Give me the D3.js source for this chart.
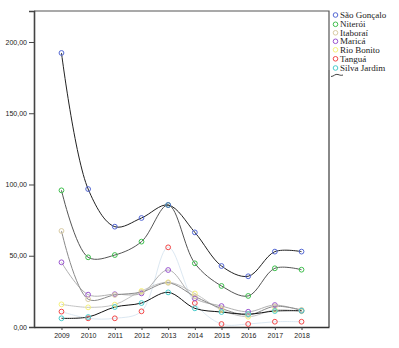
<!DOCTYPE html>
<html>
<head>
<meta charset="utf-8">
<script src="https://cdn.jsdelivr.net/npm/d3@7"></script>
<style>
  html, body { margin: 0; padding: 0; background: #fff; }
  svg { display: block; }
</style>
</head>
<body>
<svg id="chart" width="399" height="348"></svg>
<script>
// Years on the horizontal axis
const years = ["2009", "2010", "2011", "2012", "2013", "2014", "2015", "2016", "2017", "2018"];

// Values per municipality
const saoGoncalo  = [192.3, 96.8, 70.4, 76.5, 85.6, 66.4, 42.8, 35.6, 52.9, 52.9];
const niteroi     = [95.9, 48.9, 50.5, 59.9, 85.6, 44.7, 28.8, 21.8, 41.2, 40.2];
const itaborai    = [67.4, 19.5, 22.5, 24.5, 31.0, 21.5, 13.0, 8.5, 14.5, 12.0];
const marica      = [45.4, 22.7, 23.0, 23.6, 40.0, 20.1, 14.7, 10.7, 15.4, 11.4];
const rioBonito   = [15.9, 13.8, 15.7, 25.3, 31.4, 23.5, 12.0, 7.2, 12.0, 11.0];
const tangua      = [10.8, 6.1, 6.1, 11.0, 55.9, 16.8, 2.1, 2.1, 3.7, 3.7];
const silvaJardim = [6.1, 7.0, 14.0, 16.8, 24.3, 13.1, 10.5, 9.0, 11.2, 11.4];

// Y axis tick values and labels
const yTicks = [0, 50, 100, 150, 200];
const yTickLabels = ["0,00", "50,00", "100,00", "150,00", "200,00"];

const seriesNames = ["São Gonçalo", "Niterói", "Itaboraí", "Maricá", "Rio Bonito", "Tanguá", "Silva Jardim"];
const seriesValues = [saoGoncalo, niteroi, itaborai, marica, rioBonito, tangua, silvaJardim];
const markerColors = ["#5468d4", "#3fbf4e", "#d9cba4", "#9a55d0", "#f6f27a", "#f24848", "#48cccc"];
const lineColors   = ["#222222", "#555555", "#8a8a8a", "#b0b0b0", "#c4c4c4", "#dce8f2", "#111111"];

const svg = d3.select("#chart");
const plot = { left: 34, right: 329, top: 11, bottom: 327 };

const x = d3.scalePoint().domain(years).range([plot.left, plot.right]).padding(1.03);
const y = d3.scaleLinear().domain([0, 221.75]).range([plot.bottom, plot.top]);

// Frame: top and right edges
svg.append("path")
  .attr("d", `M${plot.left},${plot.top}H${plot.right}V${plot.bottom}`)
  .attr("fill", "none").attr("stroke", "#555").attr("stroke-width", 1.2);
svg.append("line")
  .attr("x1", plot.right).attr("x2", plot.right)
  .attr("y1", 70).attr("y2", plot.bottom)
  .attr("stroke", "#888").attr("stroke-width", 2);

// Y axis
const yAxis = d3.axisLeft(y).tickValues(yTicks).tickSize(5).tickPadding(2)
  .tickFormat((d, i) => yTickLabels[i]);
const gy = svg.append("g").attr("transform", `translate(${plot.left},0)`).call(yAxis);
gy.select(".domain").attr("stroke", "#444").attr("stroke-width", 1.6);
gy.selectAll(".tick line").attr("stroke", "#444");
gy.selectAll(".tick text").attr("font-family", "Liberation Sans, Arial, sans-serif")
  .attr("font-size", 7).attr("fill", "#222");

// X axis
const xAxis = d3.axisBottom(x).tickSize(3).tickPadding(3).tickSizeOuter(0);
const gx = svg.append("g").attr("transform", `translate(0,${plot.bottom})`).call(xAxis);
gx.select(".domain").attr("stroke", "#333").attr("stroke-width", 1.6);
gx.selectAll(".tick line").attr("stroke", "#444");
gx.selectAll(".tick text").attr("font-family", "Liberation Sans, Arial, sans-serif")
  .attr("font-size", 7).attr("fill", "#222");

// Smoothed interpolation lines
const line = d3.line()
  .x((d, i) => x(years[i]))
  .y(d => y(d))
  .curve(d3.curveCatmullRom.alpha(0.5));

const drawOrder = [5, 4, 3, 2, 1, 0, 6];
drawOrder.forEach(k => {
  svg.append("path")
    .datum(seriesValues[k])
    .attr("d", line)
    .attr("fill", "none")
    .attr("stroke", lineColors[k])
    .attr("stroke-width", 1);
});

// Markers
drawOrder.forEach(k => {
  svg.append("g").selectAll("circle")
    .data(seriesValues[k])
    .join("circle")
    .attr("cx", (d, i) => x(years[i]))
    .attr("cy", d => y(d))
    .attr("r", 2.4)
    .attr("fill", "none")
    .attr("stroke", markerColors[k])
    .attr("stroke-width", 1);
});

// Legend
const legendTop = [15, 24.3, 32.8, 41.3, 49.8, 58.8, 68];
const legend = svg.append("g");
seriesNames.forEach((name, k) => {
  legend.append("circle")
    .attr("cx", 335.5).attr("cy", legendTop[k])
    .attr("r", 2.3)
    .attr("fill", "none")
    .attr("stroke", markerColors[k])
    .attr("stroke-width", 1);
  legend.append("text")
    .attr("x", 340).attr("y", legendTop[k] + 3.1)
    .attr("font-family", "Liberation Serif, Times New Roman, serif")
    .attr("font-size", 9)
    .attr("fill", "#222")
    .text(name);
});
legend.append("path")
  .attr("d", "M331,76.5 C334,76.5 335,73.5 338,74.5 S341,75.5 343,75")
  .attr("fill", "none").attr("stroke", "#444").attr("stroke-width", 1);
</script>
</body>
</html>
